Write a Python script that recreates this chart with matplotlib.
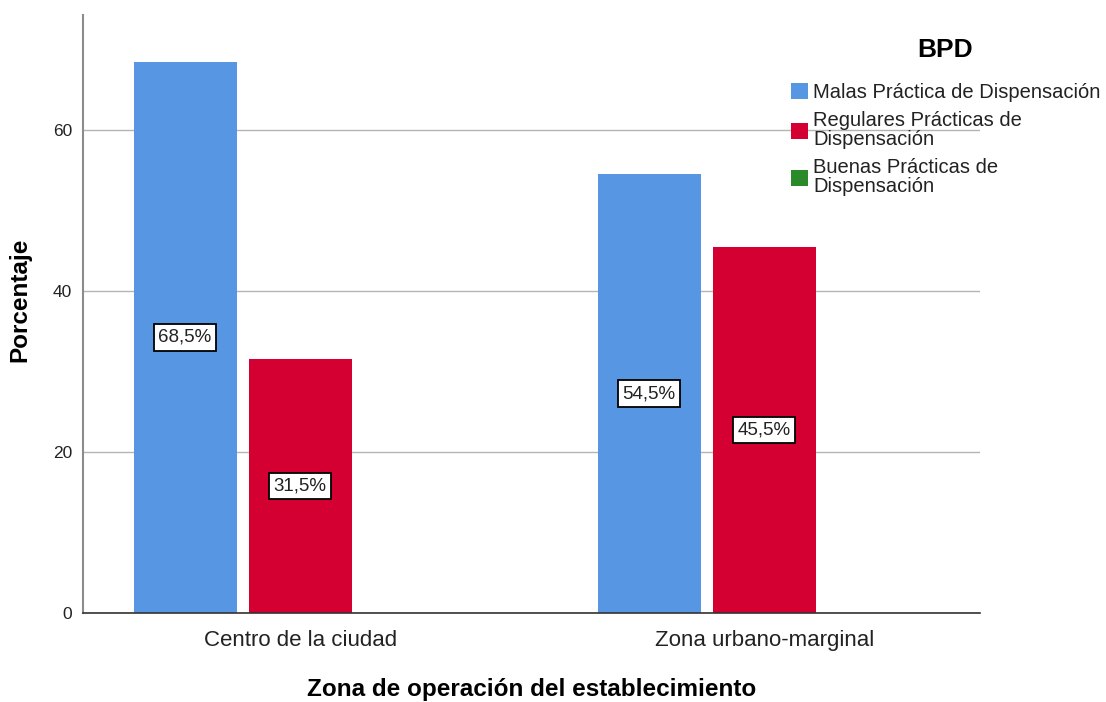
import numpy as np
import matplotlib.pyplot as plt

plt.rcParams['font.family'] = ['Liberation Sans', 'DejaVu Sans']

zonas = ['Centro de la ciudad', 'Zona urbano-marginal']
series = ['Malas Práctica de Dispensación',
          'Regulares Prácticas de\nDispensación',
          'Buenas Prácticas de\nDispensación']
malas = [68.5, 54.5]
regulares = [31.5, 45.5]
buenas = [0.0, 0.0]
colores = ['#5796e3', '#d50032', '#2a8a2a']

fig = plt.figure(figsize=(11.06, 7.02), dpi=100)
ax = fig.add_axes([83/1106, 1-613/702, 897/1106, 598/702])

x = np.arange(len(zonas))
w = 0.222
step = 0.248
valores = [malas, regulares, buenas]
for i, (vals, nombre, c) in enumerate(zip(valores, series, colores)):
    xs = x + (i - 1) * step
    ax.bar(xs, vals, width=w, color=c, label=nombre, zorder=2)
    for xi, v in zip(xs, vals):
        if v > 0:
            ax.text(xi, v / 2, f'{v:.1f}%'.replace('.', ','), ha='center', va='center',
                    fontsize=13.5, zorder=3, color='#222222',
                    bbox=dict(boxstyle='square,pad=0.25', fc='white', ec='black', lw=1.3))

ax.set_xlim(-0.468, 1.465)
ax.set_ylim(0, 74.3)
ax.set_yticks([0, 20, 40, 60])
ax.yaxis.grid(True, color='#b4b4b4', lw=1, zorder=0)
ax.set_axisbelow(True)
ax.tick_params(axis='both', length=0, labelsize=12.5, colors='#222222')
ax.tick_params(axis='x', labelsize=16, pad=12)
ax.tick_params(axis='y', pad=8)
ax.set_xticks(x)
ax.set_xticklabels(zonas)
for s in ['top', 'right']:
    ax.spines[s].set_visible(False)
ax.spines['left'].set_color('#8c8c8c')
ax.spines['left'].set_linewidth(1.5)
ax.spines['bottom'].set_color('#333333')
ax.spines['bottom'].set_linewidth(1.2)

ax.set_xlabel('Zona de operación del establecimiento', fontsize=17.5, fontweight='bold', labelpad=20)
ax.set_ylabel('Porcentaje', fontsize=17.5, fontweight='bold')
ax.yaxis.set_label_coords(-0.058, 0.523)

# leyenda: titulo aparte para separarlo un poco mas de las entradas
fig.text(945/1106, 1-50/702, 'BPD', ha='center', va='center', fontsize=19, fontweight='bold')
leg = fig.legend(loc='upper left', bbox_to_anchor=(783/1106, 1-75/702), frameon=False,
                 fontsize=14.5, handlelength=0.85, handleheight=0.85, handletextpad=0.25,
                 labelspacing=0.45, borderaxespad=0)
for t in leg.get_texts():
    t.set_linespacing(1.0)
    t.set_color('#222222')

fig.savefig('out.png', dpi=100)
